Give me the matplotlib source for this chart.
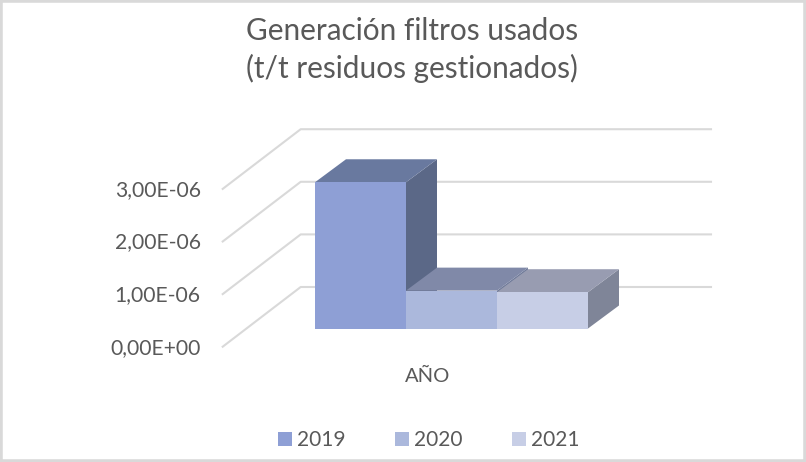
import matplotlib
matplotlib.use('Agg')
import matplotlib.pyplot as plt
from matplotlib.patches import Polygon, Rectangle

plt.rcParams['font.family'] = ['Lato', 'DejaVu Sans']

years = ['2019', '2020', '2021']
values = [2.78e-6, 0.72e-6, 0.69e-6]
grid_values = [0, 1e-6, 2e-6, 3e-6]
grid_labels = ['0,00E+00', '1,00E-06', '2,00E-06', '3,00E-06']
front_col = ['#8E9FD5', '#ABB8DC', '#C7CEE6']
top_col = ['#69799F', '#8089A8', '#989CB1']
side_col = ['#5B6887', '#6F7A99', '#7F8598']
text_col = '#595959'
grid_col = '#D9D9D9'

W, H = 806, 462
XU = 91.0    # px per bar
YU = 52.6e6  # px per unit of value
X0, Y0 = 315.0, 328.5

fig = plt.figure(figsize=(W / 100, H / 100), dpi=100)
ax = fig.add_axes([0, 0, 1, 1])
ax.set_xlim(-X0 / XU, (W - X0) / XU)
ax.set_ylim((Y0 - H) / YU, Y0 / YU)
ax.axis('off')

# depth of the chart, in data units
bar_dx, bar_dy = 31 / XU, 23 / YU
left_dx, left_dy = -92.3 / XU, -18.2 / YU
back_dx, back_dy = -14.3 / XU, 41.5 / YU
right_x = (711 - X0) / XU

# frame
ax.add_patch(Rectangle((0, 0), 1, 1, transform=ax.transAxes, fill=False, ec='#D9D9D9', lw=4, clip_on=True))

# grid
for v in grid_values:
    ax.plot([left_dx, back_dx, right_x], [v + left_dy, v + back_dy, v + back_dy], color=grid_col, lw=1.5, zorder=1)

# bars
for i, v in enumerate(values):
    ax.add_patch(Polygon([(i + 1, 0), (i + 1 + bar_dx, bar_dy), (i + 1 + bar_dx, v + bar_dy), (i + 1, v)],
                         fc=side_col[i], ec='none', zorder=2 + i))
    ax.add_patch(Polygon([(i, v), (i + bar_dx, v + bar_dy), (i + 1 + bar_dx, v + bar_dy), (i + 1, v)],
                         fc=top_col[i], ec='none', zorder=2 + i))
    ax.add_patch(Rectangle((i, 0), 1, v, fc=front_col[i], ec='none', zorder=2 + i))

# y labels
for v, lab in zip(grid_values, grid_labels):
    ax.annotate(lab, (left_dx, v + left_dy), xytext=(-22, -1), textcoords='offset pixels',
                ha='right', va='center', fontsize=15.2, color=text_col)

ax.text(412 / W, 1 - 50 / H, 'Generación filtros usados\n(t/t residuos gestionados)', transform=ax.transAxes,
        ha='center', va='center', fontsize=21.4, color=text_col, linespacing=1.37)
ax.text(428 / W, 1 - 376 / H, 'AÑO', transform=ax.transAxes, ha='center', va='center', fontsize=14.5, color=text_col)

# legend
handles = [Rectangle((0, 0), 1, 1, fc=c, ec='none') for c in front_col]
ax.legend(handles, years, loc='center', bbox_to_anchor=(428.5 / W, 1 - 440 / H), ncol=3, frameon=False,
          fontsize=15, labelcolor=text_col, handlelength=0.67, handleheight=0.67,
          handletextpad=0.24, columnspacing=2.38)

fig.savefig('out.png', dpi=100)
